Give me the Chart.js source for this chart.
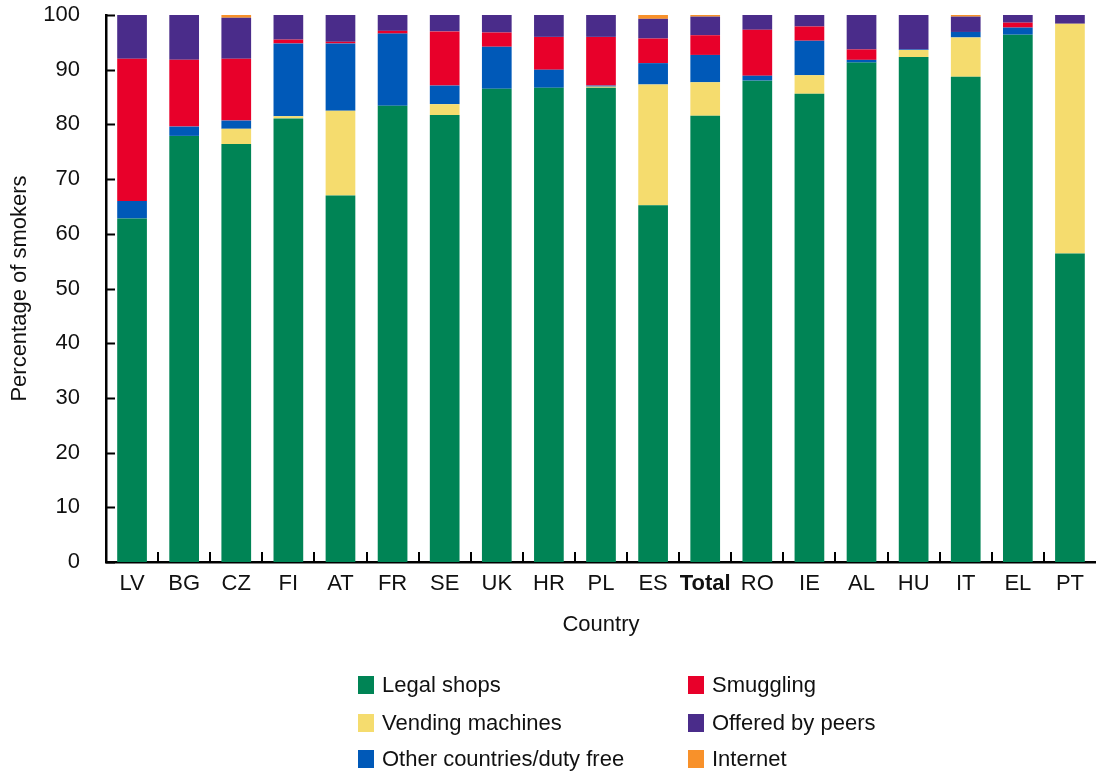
<!DOCTYPE html>
<html>
<head>
<meta charset="utf-8">
<script src="https://cdn.jsdelivr.net/npm/chart.js@4"></script>
<style>
  html, body { margin: 0; padding: 0; background: #fff; }
  body { width: 1096px; height: 773px; position: relative; overflow: hidden; font-family: "Liberation Sans", Arial, sans-serif; }
  #wrap { position: absolute; left: 0; top: 0; width: 1096px; height: 645px; }
  #legend { position: absolute; left: 0; top: 0; width: 1096px; height: 773px; pointer-events: none; }
  .item { position: absolute; display: flex; align-items: center; font-size: 22px; color: #111; white-space: nowrap; }
  .box { width: 16px; height: 18px; margin-right: 8px; }
</style>
</head>
<body>
<div id="wrap"><canvas id="chart"></canvas></div>
<div id="legend"></div>
<script>
const countries = ['LV', 'BG', 'CZ', 'FI', 'AT', 'FR', 'SE', 'UK', 'HR', 'PL', 'ES', 'Total', 'RO', 'IE', 'AL', 'HU', 'IT', 'EL', 'PT'];

// stacked bottom -> top
const legalShops = [62.8, 77.9, 76.4, 81.1, 67.0, 83.4, 81.7, 86.5, 86.7, 86.7, 65.2, 81.6, 88.0, 85.6, 91.3, 92.3, 88.7, 96.4, 56.4];
const vendingMachines = [0, 0, 2.8, 0.4, 15.5, 0, 2.0, 0, 0, 0.2, 22.1, 6.1, 0, 3.4, 0, 1.3, 7.2, 0, 42.0];
const otherCountries = [3.2, 1.7, 1.5, 13.3, 12.3, 13.2, 3.4, 7.7, 3.3, 0.2, 3.9, 5.0, 0.9, 6.3, 0.5, 0.1, 1.0, 1.3, 0];
const smuggling = [26.0, 12.2, 11.3, 0.7, 0.3, 0.5, 9.9, 2.6, 6.0, 8.9, 4.5, 3.6, 8.4, 2.6, 1.9, 0, 0, 0.9, 0];
const offeredByPeers = [8.0, 8.2, 7.5, 4.5, 4.9, 2.9, 3.0, 3.2, 4.0, 4.0, 3.6, 3.4, 2.7, 2.1, 6.3, 6.3, 2.8, 1.4, 1.6];
const internet = [0, 0, 0.5, 0, 0, 0, 0, 0, 0, 0, 0.7, 0.3, 0, 0, 0, 0, 0.3, 0, 0];

const seriesNames = ['Legal shops', 'Vending machines', 'Other countries/duty free', 'Smuggling', 'Offered by peers', 'Internet'];
const seriesColors = ['#008455', '#f5dc6e', '#0059b8', '#e8002a', '#4a2c8a', '#f8912a'];
const seriesValues = [legalShops, vendingMachines, otherCountries, smuggling, offeredByPeers, internet];

const yTicks = [0, 10, 20, 30, 40, 50, 60, 70, 80, 90, 100];

const FONT = '"Liberation Sans", Arial, sans-serif';

// small inward tick marks, like the original
const innerTicks = {
    id: 'innerTicks',
    afterDraw(chart) {
        const { ctx, chartArea, scales: { x, y } } = chart;
        ctx.save();
        ctx.strokeStyle = '#000';
        ctx.lineWidth = 2;
        ctx.beginPath();
        yTicks.forEach(v => {
            const py = Math.round(y.getPixelForValue(v)) + 0.5;
            ctx.moveTo(chartArea.left, py);
            ctx.lineTo(chartArea.left + 9, py);
        });
        for (let i = 1; i < countries.length; i++) {
            const px = Math.round(x.getPixelForValue(i - 0.5));
            ctx.moveTo(px, chartArea.bottom);
            ctx.lineTo(px, chartArea.bottom - 10);
        }
        ctx.stroke();
        ctx.restore();
    }
};

const ctx = document.getElementById('chart').getContext('2d');
new Chart(ctx, {
    type: 'bar',
    data: {
        labels: countries,
        datasets: seriesNames.map((name, i) => ({
            label: name,
            data: seriesValues[i],
            backgroundColor: seriesColors[i],
            borderWidth: 0,
            barPercentage: 0.57,
            categoryPercentage: 1
        }))
    },
    options: {
        responsive: true,
        maintainAspectRatio: false,
        animation: false,
        layout: { padding: { top: 15, right: 0, left: 0, bottom: 0 } },
        plugins: {
            legend: { display: false },
            tooltip: { enabled: false }
        },
        scales: {
            x: {
                stacked: true,
                grid: { display: false },
                border: { display: true, color: '#000', width: 2.5 },
                ticks: {
                    color: '#111',
                    padding: 1,
                    maxRotation: 0,
                    autoSkip: false,
                    font: c => ({ family: FONT, size: 22, weight: countries[c.index] === 'Total' ? 'bold' : 'normal' })
                },
                title: {
                    display: true,
                    text: 'Country',
                    color: '#111',
                    font: { family: FONT, size: 22 },
                    padding: { top: 4, bottom: 7 }
                },
                afterFit: s => { s.height = 83; s.paddingLeft = 0; s.paddingRight = 0; }
            },
            y: {
                stacked: true,
                min: 0,
                max: 100,
                grid: { display: false },
                border: { display: true, color: '#000', width: 2.5 },
                ticks: {
                    stepSize: 10,
                    color: '#111',
                    padding: 18,
                    font: { family: FONT, size: 22 }
                },
                title: {
                    display: true,
                    text: 'Percentage of smokers',
                    color: '#111',
                    font: { family: FONT, size: 22 },
                    padding: { top: 7, bottom: 4 }
                },
                afterFit: s => { s.width = 106; s.paddingTop = 0; s.paddingBottom = 0; }
            }
        }
    },
    plugins: [innerTicks]
});

// legend, filled column by column like the original
const legend = document.getElementById('legend');
const colX = [358, 688];
const rowY = [685, 723, 759];
seriesNames.forEach((name, i) => {
    const el = document.createElement('div');
    el.className = 'item';
    el.style.left = colX[Math.floor(i / 3)] + 'px';
    el.style.top = (rowY[i % 3] - 14) + 'px';
    el.style.height = '28px';
    el.innerHTML = '<span class="box" style="background:' + seriesColors[i] + '"></span><span>' + name + '</span>';
    legend.appendChild(el);
});
</script>
</body>
</html>
